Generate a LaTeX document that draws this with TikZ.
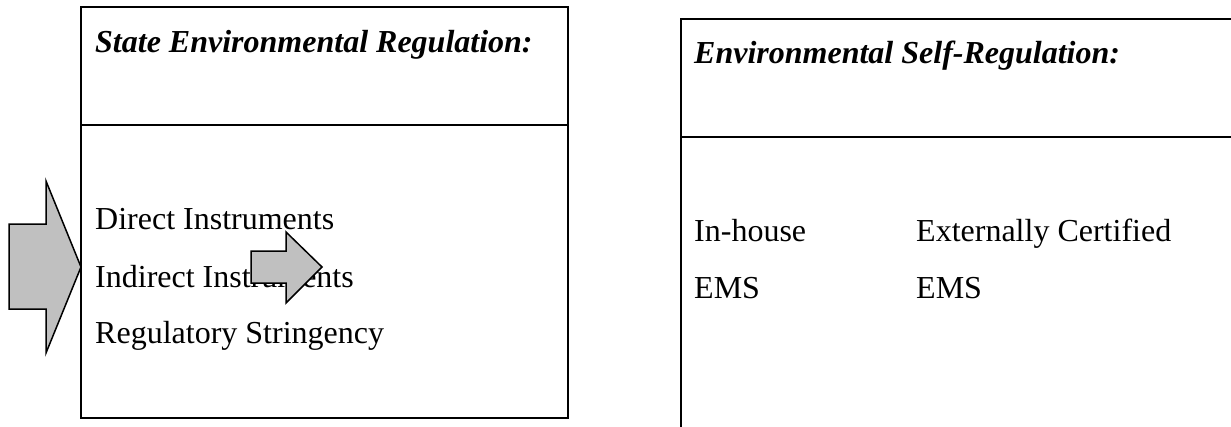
\documentclass[tikz,border=0pt]{standalone}
\usepackage{fontspec}
\setmainfont{Liberation Serif}
\begin{document}
\begin{tikzpicture}[x=1pt,y=-1pt,
  boxline/.style={draw=black,line width=2pt},
  arrowshape/.style={draw=black,fill=arrowgrey,line width=1.5pt,line join=miter},
  txt/.style={anchor=base west,inner sep=0pt,font=\fontsize{32}{38}\selectfont},
  ttl/.style={txt,font=\fontsize{32}{38}\selectfont\bfseries\itshape}]
\definecolor{arrowgrey}{RGB}{192,192,192}
\useasboundingbox (0,0) rectangle (1231,426);
% left box
\draw[boxline] (81,7) rectangle (568,418);
\draw[boxline] (81,125) -- (568,125);
\node[ttl] (ltitle) at (95,52) {State Environmental Regulation:};
\node[txt] (direct) at (95,229) {Direct Instruments};
\node[txt] (indirect) at (95,287) {Indirect Instruments};
\node[txt] (string) at (95,343) {Regulatory Stringency};
% right box (cut off at right and bottom)
\draw[boxline] (681,430) -- (681,19) -- (1235,19);
\draw[boxline] (681,137) -- (1235,137);
\node[ttl] (rtitle) at (694,63) {Environmental Self-Regulation:};
\node[txt] (inhouse) at (694,241) {In-house};
\node[txt] (ems1) at (694,298) {EMS};
\node[txt] (ext) at (916,241) {Externally Certified};
\node[txt] (ems2) at (916,298) {EMS};
% big arrow at left
\draw[arrowshape] (9,224) -- (46,224) -- (46,181) -- (81,267) -- (46,353) -- (46,309) -- (9,309) -- cycle;
% small arrow over text
\draw[arrowshape] (251,251) -- (286,251) -- (286,232) -- (322,267) -- (286,303) -- (286,283) -- (251,283) -- cycle;
\end{tikzpicture}
\end{document}
